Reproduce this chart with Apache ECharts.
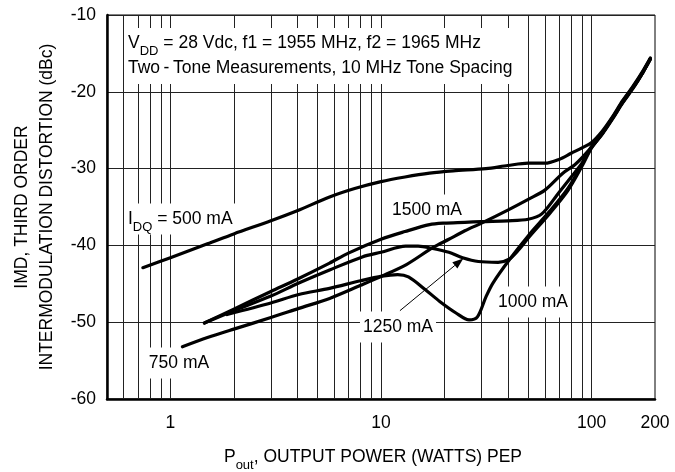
<!DOCTYPE html>
<html>
<head>
<meta charset="utf-8">
<script src="https://cdn.jsdelivr.net/npm/echarts@6/dist/echarts.min.js"></script>
<style>
  html, body { margin: 0; padding: 0; background: #fff; }
  #chart { width: 675px; height: 472px; }
</style>
</head>
<body>
<div id="chart"></div>
<script>
// Third-order IMD versus output power (two-tone), one curve per quiescent drain current.

const xTickValues = [1, 10, 100, 200];
const yTickValues = [-60, -50, -40, -30, -20, -10];
const xGridValues = [0.6, 0.7, 0.8, 0.9, 1, 2, 3, 4, 5, 6, 7, 8, 9, 10,
                     20, 30, 40, 50, 60, 70, 80, 90, 100];

// IDQ = 500 mA
const pout500 = [0.74, 1, 1.5, 2, 3, 4, 5.7, 7.5, 10, 13, 17, 22, 31.5, 40, 50, 60, 70, 80, 90, 100, 112.5, 126, 140, 157, 175, 190];
const imd500  = [-42.9, -41.6, -39.8, -38.5, -36.8, -35.5, -33.7, -32.6, -31.7, -31.1, -30.6, -30.3, -30.0, -29.6, -29.3, -29.3, -28.8, -28.0, -27.3, -26.6, -25.1, -23.2, -21.2, -19.3, -17.3, -15.6];

// IDQ = 750 mA
const pout750 = [1.14, 1.5, 2, 3, 4.07, 5.7, 8, 10.1, 13.2, 17.6, 21, 25, 30, 40, 50, 60, 73, 84, 100, 112.5, 126, 140, 157, 175, 190];
const imd750  = [-53.2, -52.0, -50.9, -49.4, -48.2, -46.9, -45.2, -44.0, -42.5, -40.3, -39.2, -38.1, -37.1, -35.4, -34.0, -32.8, -30.6, -29.4, -27.2, -25.4, -23.4, -21.4, -19.5, -17.5, -15.8];

// IDQ = 1000 mA
const pout1000 = [1.86, 3, 4.07, 5.7, 8, 10.1, 12, 13.5, 16.3, 19, 22.7, 26.2, 28.7, 31.5, 34, 40.6, 50.5, 63, 77, 90, 100, 112.5, 126, 140, 157, 175, 190];
const imd1000  = [-49.0, -47.5, -46.4, -45.6, -44.6, -44.0, -43.8, -44.1, -45.8, -47.3, -48.8, -49.7, -49.3, -46.7, -44.9, -41.9, -38.6, -35.6, -32.6, -29.5, -27.1, -25.3, -23.3, -21.3, -19.4, -17.4, -15.7];

// IDQ = 1250 mA
const pout1250 = [1.45, 2, 3, 4.07, 5.7, 8.15, 10, 13.1, 15, 17.6, 21, 24.4, 29, 36, 40.6, 45, 50.5, 63, 77, 90, 100, 112.5, 126, 140, 157, 175, 190];
const imd1250  = [-50.1, -48.5, -46.6, -44.9, -43.2, -41.5, -40.9, -40.1, -40.1, -40.4, -40.9, -41.6, -42.1, -42.2, -41.8, -40.6, -38.9, -35.9, -32.9, -29.7, -27.3, -25.5, -23.5, -21.5, -19.6, -17.5, -15.7];

// IDQ = 1500 mA
const pout1500 = [1.45, 2, 3, 4, 5.7, 7, 10, 13, 17, 20, 25, 30, 40, 50, 58, 70, 80, 90, 100, 112.5, 126, 140, 157, 175, 190];
const imd1500  = [-50.1, -48.3, -46.0, -44.4, -42.3, -41.0, -39.2, -38.2, -37.3, -37.1, -37.0, -36.9, -36.8, -36.6, -35.9, -33.1, -31.1, -29.3, -27.2, -25.4, -23.4, -21.4, -19.5, -17.5, -15.7];

const FAMILY = "'Liberation Sans', Arial, Helvetica, sans-serif";
const FS = 17.5;
const font = (size) => size + 'px ' + FAMILY;

const chart = echarts.init(document.getElementById('chart'), null, { renderer: 'canvas' });

const pairs = (xs, ys) => xs.map((x, i) => [x, ys[i]]);

const curves = [
  { name: '500 mA',  x: pout500,  y: imd500 },
  { name: '750 mA',  x: pout750,  y: imd750 },
  { name: '1000 mA', x: pout1000, y: imd1000 },
  { name: '1250 mA', x: pout1250, y: imd1250 },
  { name: '1500 mA', x: pout1500, y: imd1500 }
];

const series = curves.map(c => ({
  type: 'line',
  name: c.name,
  data: pairs(c.x, c.y),
  symbol: 'none',
  smooth: 0.3,
  silent: true,
  z: 5,
  lineStyle: { color: '#000', width: 3.2, cap: 'round', join: 'round' }
}));

// vertical decade / sub-decade grid lines of the log axis
series.push({
  type: 'line',
  name: 'grid',
  data: [],
  silent: true,
  markLine: {
    silent: true,
    z: 1,
    symbol: ['none', 'none'],
    label: { show: false },
    lineStyle: { color: '#222', width: 1, type: 'solid' },
    emphasis: { disabled: true },
    data: xGridValues.map(v => ({ xAxis: v }))
  }
});

const labelFor = (v) => {
  const hit = xTickValues.find(t => Math.abs(Math.log10(t) - Math.log10(v)) < 0.01);
  return hit === undefined ? '' : String(hit);
};

chart.setOption({
  animation: false,
  backgroundColor: '#fff',
  grid: { left: 107, right: 20, top: 15, bottom: 73, show: true, borderColor: '#000', borderWidth: 1 },
  xAxis: {
    type: 'log',
    logBase: 10,
    min: 0.5,
    max: 200,
    axisLine: { show: true, onZero: false, lineStyle: { color: '#000', width: 2.5 } },
    axisTick: { show: false },
    splitLine: { show: false },
    minorTick: { show: false },
    axisLabel: {
      formatter: labelFor,
      color: '#000',
      fontFamily: FAMILY,
      fontSize: FS,
      margin: 15,
      showMinLabel: true,
      showMaxLabel: true,
      hideOverlap: false
    }
  },
  yAxis: {
    type: 'value',
    min: yTickValues[0],
    max: yTickValues[yTickValues.length - 1],
    interval: yTickValues[1] - yTickValues[0],
    axisLine: { show: true, onZero: false, lineStyle: { color: '#000', width: 2.5 } },
    axisTick: { show: false },
    splitLine: { show: true, lineStyle: { color: '#222', width: 1 } },
    axisLabel: { color: '#000', fontFamily: FAMILY, fontSize: FS, margin: 11 }
  },
  series: series
});

// annotations: label boxes knock the grid out behind the text
const boxed = (x, y, text, align, rich) => ({
  type: 'text',
  x: x, y: y, z: 3,
  silent: true,
  style: {
    text: text,
    font: font(FS),
    fill: '#000',
    align: align, textAlign: align,
    verticalAlign: 'middle', textVerticalAlign: 'middle',
    backgroundColor: '#fff',
    padding: [3, 3, 3, 3],
    lineHeight: 25,
    rich: rich
  }
});

const subRich = {
  n: { font: font(FS), fill: '#000' },
  s: { font: font(13), fill: '#000', padding: [16, 0, 0, 0] }
};

const tail = chart.convertToPixel({ gridIndex: 0 }, [12.3, -48.5]);
const tip = chart.convertToPixel({ gridIndex: 0 }, [24.6, -41.7]);
const ang = Math.atan2(tip[1] - tail[1], tip[0] - tail[0]);
const headLen = 11, headHalf = 4;
const base = [tip[0] - headLen * Math.cos(ang), tip[1] - headLen * Math.sin(ang)];
const head = [
  tip,
  [base[0] + headHalf * Math.sin(ang), base[1] - headHalf * Math.cos(ang)],
  [base[0] - headHalf * Math.sin(ang), base[1] + headHalf * Math.cos(ang)]
];

chart.setOption({
  graphic: [
    boxed(125, 56,
      '{n|V}{s|DD}{n| = 28 Vdc, f1 = 1955 MHz, f2 = 1965 MHz}\n{n|Two\u2009-\u2009Tone Measurements, 10 MHz Tone Spacing}',
      'left', subRich),
    boxed(125, 219, '{n|I}{s|DQ}{n| = 500 mA}', 'left', subRich),
    boxed(427, 210, '1500 mA', 'center'),
    boxed(179, 363, '750 mA', 'center'),
    boxed(398, 327, '1250 mA', 'center'),
    boxed(533, 302, '1000 mA', 'center'),
    {
      type: 'line', z: 6, silent: true,
      shape: { x1: tail[0], y1: tail[1], x2: base[0], y2: base[1] },
      style: { stroke: '#000', lineWidth: 1 }
    },
    {
      type: 'polygon', z: 6, silent: true,
      shape: { points: head },
      style: { fill: '#000' }
    },
    {
      type: 'text', x: 373, y: 457, z: 3, silent: true,
      style: {
        text: '{n|P}{s|out}{n|, OUTPUT POWER (WATTS) PEP}',
        font: font(FS), fill: '#000',
        align: 'center', textAlign: 'center',
        verticalAlign: 'middle', textVerticalAlign: 'middle',
        lineHeight: 25,
        rich: subRich
      }
    },
    {
      type: 'text', x: 35, y: 207, z: 3, silent: true,
      rotation: Math.PI / 2,
      style: {
        text: 'IMD, THIRD ORDER\nINTERMODULATION DISTORTION (dBc)',
        font: font(FS), fill: '#000',
        align: 'center', textAlign: 'center',
        verticalAlign: 'middle', textVerticalAlign: 'middle',
        lineHeight: 25
      }
    }
  ]
});
</script>
</body>
</html>
